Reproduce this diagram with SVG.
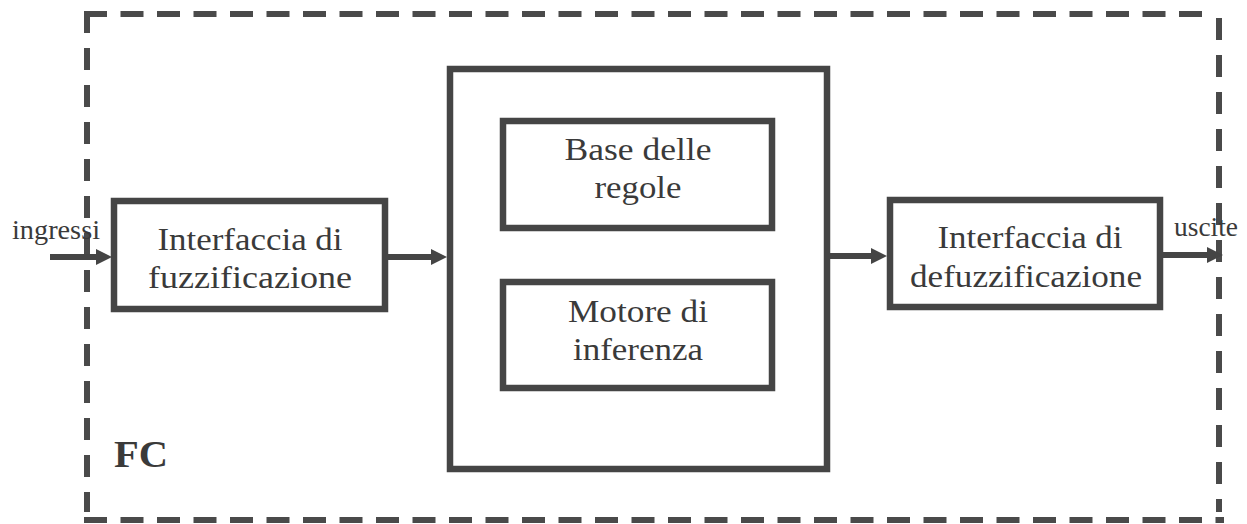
<svg xmlns="http://www.w3.org/2000/svg" width="1247" height="524" viewBox="0 0 1247 524">
  <style>
    .box { fill: #ffffff; stroke: #454545; stroke-width: 6.5; }
    .dash { fill: none; stroke: #4a4a4a; stroke-width: 6; }
    .conn { fill: none; stroke: #454545; stroke-width: 6; }
    .t { font-family: "Liberation Serif", "Times New Roman", serif; fill: #3a3a3a; text-anchor: middle; }
    .lbl { font-size: 32px; }
    .sm { font-size: 27px; }
    .fc { font-size: 38px; font-weight: bold; text-anchor: start; }
  </style>
  <defs>
    <marker id="arr" viewBox="0 0 16 16" markerWidth="16" markerHeight="16" refX="6" refY="8" orient="auto" markerUnits="userSpaceOnUse">
      <path d="M0,0 L16,8 L0,16 z" fill="#454545"/>
    </marker>
  </defs>

  <g id="fc-boundary">
    <path class="dash" d="M84 14 H1213" stroke-dasharray="23 13.5"/>
    <path class="dash" d="M87 11 V512" stroke-dasharray="22 15"/>
    <path class="dash" d="M1219 18 V512" stroke-dasharray="22 15"/>
    <path class="dash" d="M84 520 H1224" stroke-dasharray="23 13.5"/>
    <text class="t fc" x="114" y="467" textLength="54" lengthAdjust="spacingAndGlyphs">FC</text>
  </g>

  <g id="fuzzificazione">
    <rect class="box" x="114" y="201" width="271" height="108"/>
    <text class="t lbl" x="250" y="250" textLength="185" lengthAdjust="spacingAndGlyphs">Interfaccia di</text>
    <text class="t lbl" x="250" y="288" textLength="204" lengthAdjust="spacingAndGlyphs">fuzzificazione</text>
  </g>

  <g id="inferenza-blocco">
    <rect class="box" x="450" y="69" width="377" height="400"/>
  </g>

  <g id="base-regole">
    <rect class="box" x="503" y="121" width="269" height="107"/>
    <text class="t lbl" x="638" y="160" textLength="147" lengthAdjust="spacingAndGlyphs">Base delle</text>
    <text class="t lbl" x="638" y="198" textLength="87" lengthAdjust="spacingAndGlyphs">regole</text>
  </g>

  <g id="motore-inferenza">
    <rect class="box" x="503" y="282" width="269" height="106"/>
    <text class="t lbl" x="638" y="322" textLength="140" lengthAdjust="spacingAndGlyphs">Motore di</text>
    <text class="t lbl" x="638" y="360" textLength="130" lengthAdjust="spacingAndGlyphs">inferenza</text>
  </g>

  <g id="defuzzificazione">
    <rect class="box" x="890" y="200" width="270" height="107"/>
    <text class="t lbl" x="1030" y="248" textLength="185" lengthAdjust="spacingAndGlyphs">Interfaccia di</text>
    <text class="t lbl" x="1026" y="287" textLength="232" lengthAdjust="spacingAndGlyphs">defuzzificazione</text>
  </g>

  <g id="connectors">
    <path class="conn" d="M50 257 H102" marker-end="url(#arr)"/>
    <path class="conn" d="M387 257 H437" marker-end="url(#arr)"/>
    <path class="conn" d="M829 256 H877" marker-end="url(#arr)"/>
    <path class="conn" d="M1162 255 H1213" marker-end="url(#arr)"/>
    <text class="t sm" x="56" y="239" textLength="88" lengthAdjust="spacingAndGlyphs">ingressi</text>
    <text class="t sm" x="1206" y="236" textLength="64" lengthAdjust="spacingAndGlyphs">uscite</text>
  </g>
</svg>
